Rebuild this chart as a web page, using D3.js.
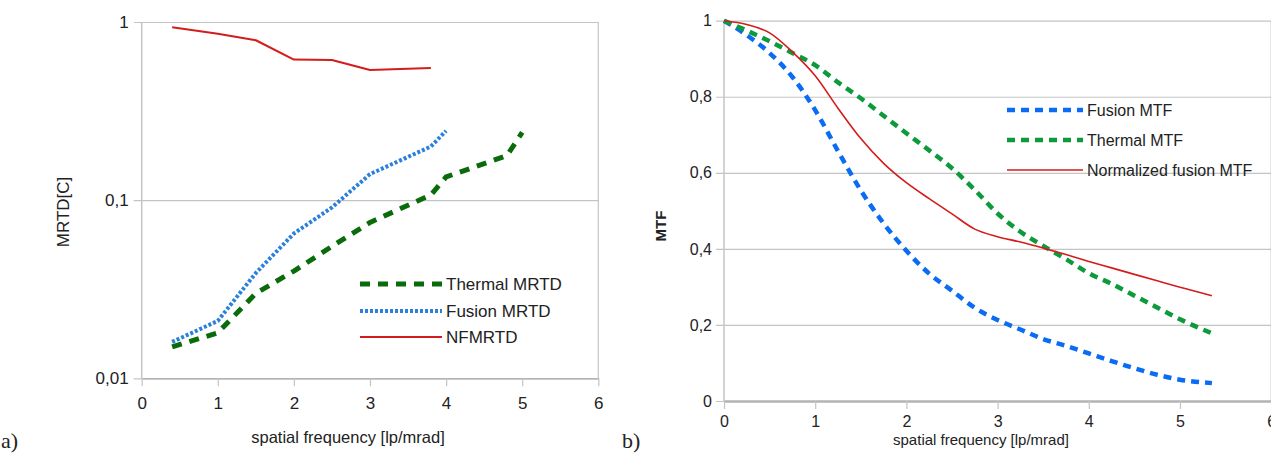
<!DOCTYPE html>
<html>
<head>
<meta charset="utf-8">
<script src="https://cdn.jsdelivr.net/npm/d3@7"></script>
<style>
  body { margin: 0; background: #fff; }
  svg text { font-family: "Liberation Sans", Arial, sans-serif; fill: #222; }
</style>
</head>
<body>
<svg id="chart" width="1271" height="455"></svg>
<script>
// Données du graphe a) : MRTD (échelle log)
const mrtdTicksX = [0, 1, 2, 3, 4, 5, 6];
const mrtdTicksY = [0.01, 0.1, 1];
const mrtdLabelsY = ["0,01", "0,1", "1"];

const thermalMrtdFreq = [0.4, 1, 1.5, 2, 2.5, 3, 3.8, 4, 4.8, 5];
const thermalMrtd = [0.015, 0.018, 0.03, 0.04, 0.055, 0.075, 0.107, 0.135, 0.178, 0.24];

const fusionMrtdFreq = [0.4, 1, 1.5, 2, 2.5, 3, 3.8, 4];
const fusionMrtd = [0.016, 0.021, 0.039, 0.065, 0.091, 0.14, 0.2, 0.245];

const nfMrtdFreq = [0.4, 1, 1.5, 2, 2.5, 3, 3.8];
const nfMrtd = [0.935, 0.86, 0.79, 0.615, 0.612, 0.538, 0.552];

// Données du graphe b) : MTF
const mtfTicksX = [0, 1, 2, 3, 4, 5, 6];
const mtfTicksY = [0, 0.2, 0.4, 0.6, 0.8, 1];
const mtfLabelsY = ["0", "0,2", "0,4", "0,6", "0,8", "1"];

const mtfFreq = [0, 0.25, 0.5, 0.75, 1, 1.25, 1.5, 1.75, 2, 2.25, 2.5, 2.75, 3,
                 3.25, 3.5, 3.75, 4, 4.25, 4.5, 4.75, 5, 5.35];
const fusionMtf = [1, 0.962, 0.915, 0.852, 0.765, 0.657, 0.554, 0.467, 0.395, 0.335, 0.29, 0.245, 0.213,
                   0.188, 0.163, 0.145, 0.125, 0.105, 0.086, 0.069, 0.056, 0.047];
const thermalMtf = [1, 0.974, 0.946, 0.915, 0.883, 0.838, 0.796, 0.75, 0.704, 0.659, 0.612, 0.555, 0.493,
                    0.445, 0.408, 0.373, 0.336, 0.308, 0.277, 0.246, 0.215, 0.178];
const normFusionMtf = [1, 0.99, 0.968, 0.918, 0.855, 0.77, 0.69, 0.625, 0.574, 0.532, 0.492, 0.452, 0.432,
                       0.418, 0.402, 0.385, 0.367, 0.35, 0.333, 0.316, 0.299, 0.277];

const svg = d3.select('#chart');

// Dessiner les axes + la grille
function drawFrame(g, x, y, opt) {
    const [x0, x1] = x.range();
    const [yb, yt] = y.range();

    // grille horizontale + petits traits à gauche
    const left = d3.axisLeft(y)
        .tickValues(opt.ticksY)
        .tickFormat((d, i) => opt.labelsY[i])
        .tickSize(-(x1 - x0 + 8))
        .tickSizeOuter(0)
        .tickPadding(opt.padY);
    const gy = g.append('g')
        .attr('transform', `translate(${x0 - 8},0)`)
        .call(left);
    gy.select('.domain').remove();
    gy.selectAll('line').attr('stroke', '#c4c4c4').attr('stroke-width', 1.2);
    gy.selectAll('text').style('font-size', opt.font + 'px').attr('fill', '#222');

    // axe vertical + bord droit
    g.append('line').attr('x1', x0).attr('x2', x0).attr('y1', yt).attr('y2', yb)
        .attr('stroke', '#c4c4c4').attr('stroke-width', 1.5);
    g.append('line').attr('x1', x1).attr('x2', x1).attr('y1', yt).attr('y2', yb)
        .attr('stroke', '#c4c4c4').attr('stroke-width', 1.2);

    // axe des x
    const bottom = d3.axisBottom(x)
        .tickValues(opt.ticksX)
        .tickFormat(d3.format('d'))
        .tickSize(8)
        .tickSizeOuter(0)
        .tickPadding(opt.padX);
    const gx = g.append('g')
        .attr('transform', `translate(0,${yb})`)
        .call(bottom);
    gx.select('.domain').attr('stroke', '#b3b3b3').attr('stroke-width', opt.baseW);
    gx.selectAll('line').attr('stroke', '#c4c4c4').attr('stroke-width', 1.2);
    gx.selectAll('text').style('font-size', opt.font + 'px').attr('fill', '#222');
}

function drawSeries(g, x, y, xs, ys, style, curve) {
    const line = d3.line()
        .x((d, i) => x(xs[i]))
        .y(d => y(d))
        .curve(curve);
    g.append('path')
        .datum(ys)
        .attr('fill', 'none')
        .attr('stroke', style.color)
        .attr('stroke-width', style.width)
        .attr('stroke-dasharray', style.dash)
        .attr('stroke-linejoin', 'round')
        .attr('d', line);
}

function drawLegend(g, items, x0, x1, yRows, font) {
    items.forEach((s, i) => {
        g.append('line')
            .attr('x1', x0).attr('x2', x1)
            .attr('y1', yRows[i]).attr('y2', yRows[i])
            .attr('stroke', s.color)
            .attr('stroke-width', s.width)
            .attr('stroke-dasharray', s.dash);
        g.append('text')
            .attr('x', x1 + 4)
            .attr('y', yRows[i])
            .attr('dy', '0.35em')
            .style('font-size', font + 'px')
            .text(s.name);
    });
}

// ---------- Graphe a) ----------
const xA = d3.scaleLinear().domain([0, 6]).range([141.7, 598.3]);
const yA = d3.scaleLog().domain([0.01, 1]).range([378.3, 22]);
const gA = svg.append('g');

drawFrame(gA, xA, yA, {
    ticksX: mrtdTicksX, ticksY: mrtdTicksY, labelsY: mrtdLabelsY,
    font: 17, padX: 11, padY: 5, baseW: 1.5
});

const styleA = [
    { name: 'Thermal MRTD', color: '#0a6b0a', width: 5, dash: '10,8' },
    { name: 'Fusion MRTD', color: '#2a80dc', width: 4, dash: '3,2' },
    { name: 'NFMRTD', color: '#d41c1c', width: 2, dash: null }
];
drawSeries(gA, xA, yA, thermalMrtdFreq, thermalMrtd, styleA[0], d3.curveLinear);
drawSeries(gA, xA, yA, fusionMrtdFreq, fusionMrtd, styleA[1], d3.curveLinear);
drawSeries(gA, xA, yA, nfMrtdFreq, nfMrtd, styleA[2], d3.curveLinear);
drawLegend(gA, styleA, 360, 442, [284, 311, 337], 17);

gA.append('text')
    .attr('transform', 'translate(69,212) rotate(-90)')
    .attr('text-anchor', 'middle')
    .style('font-size', '17px')
    .text('MRTD[C]');
gA.append('text')
    .attr('x', 348).attr('y', 443)
    .attr('text-anchor', 'middle')
    .style('font-size', '16.5px')
    .text('spatial frequency [lp/mrad]');

// ---------- Graphe b) ----------
const xB = d3.scaleLinear().domain([0, 6]).range([724, 1271.2]);
const yB = d3.scaleLinear().domain([0, 1]).range([401, 20.7]);
const gB = svg.append('g');

drawFrame(gB, xB, yB, {
    ticksX: mtfTicksX, ticksY: mtfTicksY, labelsY: mtfLabelsY,
    font: 16, padX: 7, padY: 4, baseW: 2.5
});

const styleB = [
    { name: 'Fusion MTF', color: '#0a6cf5', width: 4.5, dash: '8,6' },
    { name: 'Thermal MTF', color: '#0c9a3a', width: 4.5, dash: '8,6' },
    { name: 'Normalized fusion MTF', color: '#d41c1c', width: 1.6, dash: null }
];
drawSeries(gB, xB, yB, mtfFreq, fusionMtf, styleB[0], d3.curveMonotoneX);
drawSeries(gB, xB, yB, mtfFreq, thermalMtf, styleB[1], d3.curveMonotoneX);
drawSeries(gB, xB, yB, mtfFreq, normFusionMtf, styleB[2], d3.curveMonotoneX);
drawLegend(gB, styleB, 1007, 1083, [110, 140, 170], 16);

gB.append('text')
    .attr('transform', 'translate(661,226) rotate(-90)')
    .attr('text-anchor', 'middle')
    .attr('dy', '0.35em')
    .style('font-size', '15px')
    .style('font-weight', 'bold')
    .text('MTF');
gB.append('text')
    .attr('x', 981).attr('y', 445)
    .attr('text-anchor', 'middle')
    .style('font-size', '15px')
    .text('spatial frequency [lp/mrad]');

// Repères a) et b)
svg.append('text').attr('x', 1).attr('y', 448)
    .style('font-family', '"Liberation Serif", "Times New Roman", serif')
    .style('font-size', '22px').attr('fill', '#000').text('a)');
svg.append('text').attr('x', 622).attr('y', 448)
    .style('font-family', '"Liberation Serif", "Times New Roman", serif')
    .style('font-size', '22px').attr('fill', '#000').text('b)');
</script>
</body>
</html>
